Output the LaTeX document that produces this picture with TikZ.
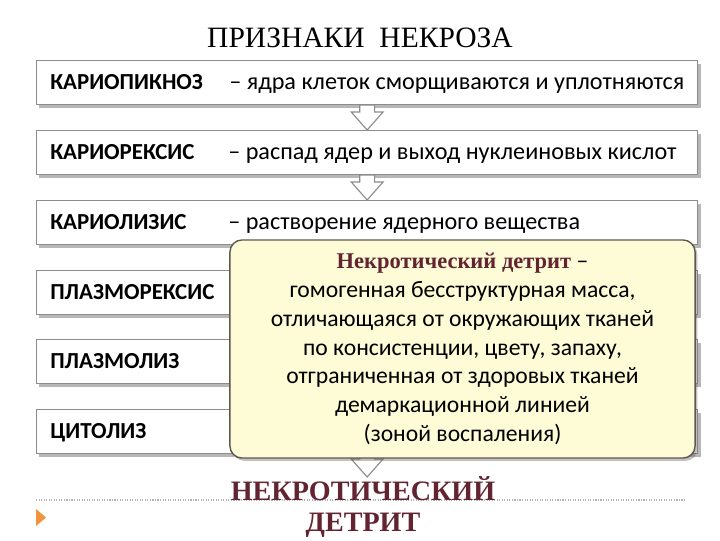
\documentclass[tikz,border=0pt]{standalone}
\usepackage{fontspec}
\setmainfont{Carlito}
\newfontfamily\serifrm{Liberation Serif}
\usetikzlibrary{shadows,calc}
\definecolor{nkmaroon}{RGB}{99,36,50}
\definecolor{boxgray}{RGB}{140,140,140}
\definecolor{calloutfill}{RGB}{253,252,214}
\definecolor{calloutline}{RGB}{95,88,78}
\definecolor{markorange}{RGB}{242,148,55}
\newcommand\hollowarrow[2]{%
  \path[harrow] let \p1=(#1.south), \p2=(#2.north) in
    (\x1-5.3pt,\y1) -- (\x1-5.3pt,\y2+12.8pt) -- (\x1-11.3pt,\y2+12.8pt) --
    (\x1,\y2) -- (\x1+11.3pt,\y2+12.8pt) -- (\x1+5.3pt,\y2+12.8pt) --
    (\x1+5.3pt,\y1) -- cycle;}
\begin{document}
\begin{tikzpicture}[x=0.025cm,y=-0.025cm,
  box/.style={draw=boxgray, fill=white, line width=0.8pt, minimum width=16.525cm,
    minimum height=1.1cm, anchor=north west, inner sep=0pt,
    drop shadow={shadow xshift=0.07cm, shadow yshift=-0.08cm, opacity=0.4, fill=black!70}},
  lbl/.style={anchor=base west, inner sep=0pt, font=\fontsize{16.3}{19}\selectfont\bfseries},
  desc/.style={anchor=base west, inner sep=0pt, font=\fontsize{17.2}{20}\selectfont},
  harrow/.style={draw=boxgray, fill=white, line width=0.8pt, line join=miter},
  callout/.style={draw=calloutline, fill=calloutfill, line width=1pt, rounded corners=0.3cm,
    minimum width=11.625cm, minimum height=5.45cm, align=center, inner sep=0pt,
    font=\fontsize{16.8}{20.5}\selectfont,
    drop shadow={shadow xshift=0.06cm, shadow yshift=-0.07cm, opacity=0.35, fill=black!70}}
]
\useasboundingbox (0,0) rectangle (720,540);
% title
\node[font=\serifrm\fontsize{21}{24}\selectfont] (title) at (360,38) {ПРИЗНАКИ\ \ НЕКРОЗА};
% footer decoration
\coordinate (dl) at (36,500);
\coordinate (dr) at (686,500);
\draw[densely dotted, black!30, line width=0.8pt] (dl) -- (dr);
\fill[markorange] (36,509) -- (46,517.5) -- (36,526) -- cycle;
% boxes
\node[box] (b1) at (36,60) {};
\node[box] (b2) at (36,130) {};
\node[box] (b3) at (36,200) {};
\node[box] (b4) at (36,270) {};
\node[box] (b5) at (36,339) {};
\node[box] (b6) at (36,409) {};
\node[lbl] (k1) at (50,89) {КАРИОПИКНОЗ};
\node[desc] (d1) at (229,89) {– ядра клеток сморщиваются и уплотняются};
\node[lbl] (k2) at (50,159) {КАРИОРЕКСИС};
\node[desc] (d2) at (228,159) {– распад ядер и выход нуклеиновых кислот};
\node[lbl] (k3) at (50,229) {КАРИОЛИЗИС};
\node[desc] (d3) at (228,229) {– растворение ядерного вещества};
\node[lbl] (k4) at (50,299) {ПЛАЗМОРЕКСИС};
\node[lbl] (k5) at (50,368) {ПЛАЗМОЛИЗ};
\node[lbl] (k6) at (50,438) {ЦИТОЛИЗ};
% arrows
\coordinate (tip) at (366.5,477);
\hollowarrow{b1}{b2}
\hollowarrow{b2}{b3}
\hollowarrow{b3}{b4}
\hollowarrow{b4}{b5}
\hollowarrow{b5}{b6}
\hollowarrow{b6}{tip}
% callout
\node[callout] (nd) at (462.5,349) {{\serifrm\bfseries\fontsize{16}{20.5}\selectfont\color{nkmaroon}Некротический детрит} –\\
гомогенная бесструктурная масса,\\
отличающаяся от окружающих тканей\\
по консистенции, цвету, запаху,\\
отграниченная от здоровых тканей\\
демаркационной линией\\
(зоной воспаления)};
% result
\node[font=\serifrm\bfseries\fontsize{20}{22.5}\selectfont, text=nkmaroon, align=center, inner sep=0pt] (res) at (363,507) {НЕКРОТИЧЕСКИЙ\\ДЕТРИТ};
\end{tikzpicture}
\end{document}
